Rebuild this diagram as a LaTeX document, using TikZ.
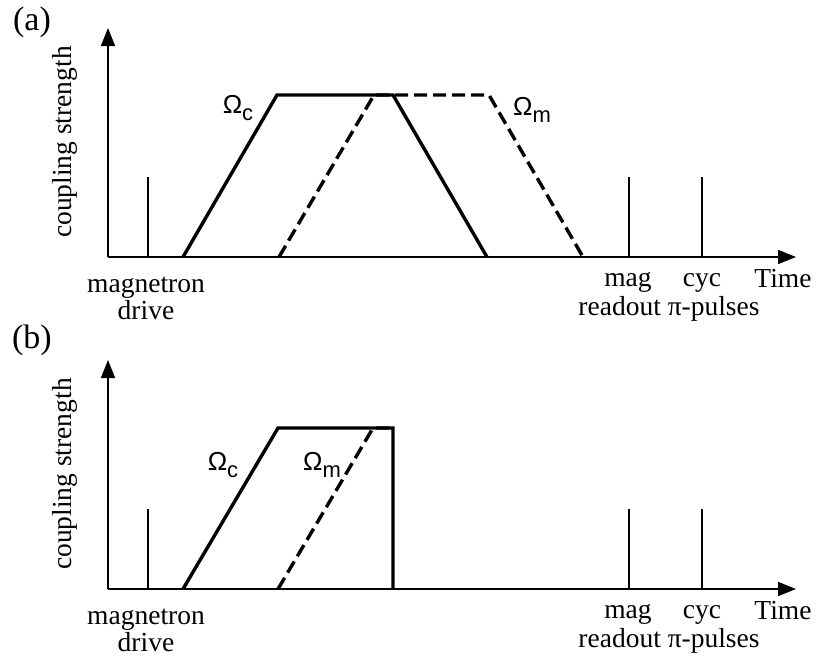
\documentclass[tikz,border=0pt]{standalone}
\usepackage{fontspec}
\setmainfont{Liberation Serif}
\setsansfont{Liberation Sans}
\usetikzlibrary{arrows.meta}
\tikzset{axis/.style={-{Triangle[length=18pt,width=14pt]},line width=1.6pt},
 spike/.style={line width=1.3pt},
 pulse/.style={line width=3.4pt,line join=miter},
 pulsedash/.style={pulse,dash pattern=on 13pt off 6pt},
 lbl/.style={font=\fontsize{27.5}{30}\selectfont,inner sep=0pt},
 omega/.style={font=\sffamily\fontsize{26}{28}\selectfont,inner sep=0pt}}
\newcommand{\omsub}[1]{Ω\raisebox{-0.3em}{\fontsize{22}{22}\selectfont #1}}

\begin{document}
\begin{tikzpicture}[x=1pt,y=-1pt]
\useasboundingbox (0,0) rectangle (817,659);
% axes, pulses and labels common to both panels
\foreach \p/\dy/\ly in {a/0/22,b/332/340} {
 \begin{scope}[shift={(0,\dy)}]
 \coordinate (o\p) at (108,257);
 \coordinate (ytip\p) at (108,28);
 \coordinate (xtip\p) at (796,257);
 \draw[axis] (o\p)--(ytip\p);
 \draw[axis] (o\p)--(xtip\p);
 \foreach \x/\s in {148/drv,629/mag,702/cyc} {
  \draw[spike] (\x,257)--(\x,177);
 }
 \node[lbl,font=\fontsize{34}{36}\selectfont] (title\p) at (32,\ly-\dy) {(\p)};
 \node[lbl,rotate=90] (ylab\p) at (65,142) {coupling strength};
 \node[lbl,anchor=base] (magnetron\p) at (146,292) {magnetron};
 \node[lbl,anchor=base] (drive\p) at (146,319) {drive};
 \node[lbl,anchor=base] (mag\p) at (628,286) {mag};
 \node[lbl,anchor=base] (cyc\p) at (702,286) {cyc};
 \node[lbl,anchor=base] (time\p) at (783,287) {Time};
 \node[lbl,anchor=base] (readout\p) at (669,315) {readout π-pulses};
 \end{scope}
}
% (a) overlapping pulses
\draw[pulse] (183,257)--(277,95)--(393,95)--(487,257);
\draw[pulsedash] (279,257)--(374,95)--(489,95)--(583,257);
\node[omega] (omca) at (238,108) {\omsub{c}};
\node[omega] (omma) at (532,110) {\omsub{m}};
% (b) pulses switched off together
\draw[pulse] (183,589)--(278,428)--(393,428)--(393,589);
\draw[pulsedash] (278,589)--(373,428)--(393,428);
\node[omega] (omcb) at (223,465) {\omsub{c}};
\node[omega] (ommb) at (322,465) {\omsub{m}};
\end{tikzpicture}
\end{document}
